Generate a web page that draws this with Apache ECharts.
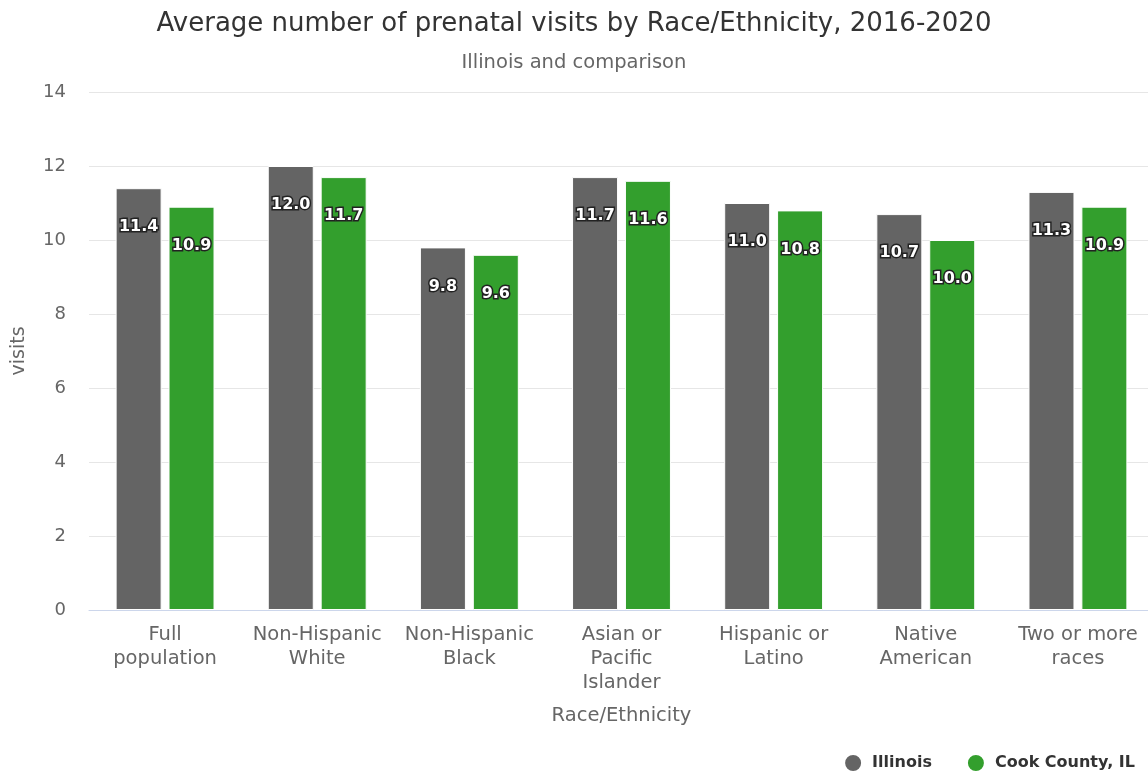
<!DOCTYPE html>
<html><head><meta charset="utf-8">
<script src="https://cdn.jsdelivr.net/npm/echarts@6/dist/echarts.min.js"></script>
<style>html,body{margin:0;padding:0;background:#fff}#c{width:1148px;height:775px}</style>
</head><body><div id="c"></div>
<script>
const categories = ["Full\npopulation", "Non-Hispanic\nWhite", "Non-Hispanic\nBlack", "Asian or\nPacific\nIslander", "Hispanic or\nLatino", "Native\nAmerican", "Two or more\nraces"];
const illinois = [11.4, 12.0, 9.8, 11.7, 11.0, 10.7, 11.3];
const cook = [10.9, 11.7, 9.6, 11.6, 10.8, 10.0, 10.9];
const seriesNames = ["Illinois", "Cook County, IL"];
const yTicks = [0, 2, 4, 6, 8, 10, 12, 14];

const FONT = '"DejaVu Sans", sans-serif';
const chart = echarts.init(document.getElementById('c'));
const labelStyle = {
  show: true, position: 'insideTop', distance: 31,
  color: '#fff', fontFamily: FONT, fontSize: 16, fontWeight: 'bold',
  textBorderColor: '#222', textBorderWidth: 3,
  formatter: p => p.value.toFixed(1)
};
chart.setOption({
  animation: false,
  title: {
    text: 'Average number of prenatal visits by Race/Ethnicity, 2016-2020',
    subtext: 'Illinois and comparison',
    left: 'center', top: 6, itemGap: 16,
    textStyle: { fontFamily: FONT, fontSize: 26, fontWeight: 'normal', color: '#333' },
    subtextStyle: { fontFamily: FONT, fontSize: 19.5, color: '#666' }
  },
  legend: {
    right: 8, bottom: -3, itemGap: 34, icon: 'circle', itemWidth: 18, itemHeight: 18,
    textStyle: { fontFamily: FONT, fontSize: 16, fontWeight: 'bold', color: '#333', padding: [0, 0, 0, 5] },
    data: seriesNames
  },
  grid: { left: 89, width: 1065, top: 92, bottom: 165, containLabel: false, outerBoundsMode: 'none' },
  xAxis: {
    type: 'category', data: categories,
    name: 'Race/Ethnicity', nameLocation: 'middle', nameGap: 96,
    nameTextStyle: { fontFamily: FONT, fontSize: 19.5, color: '#666' },
    axisLine: { lineStyle: { color: '#ccd6eb', width: 1 } },
    axisTick: { show: false },
    axisLabel: { fontFamily: FONT, fontSize: 19.5, color: '#666', lineHeight: 24, margin: 13, interval: 0 }
  },
  yAxis: {
    type: 'value', min: 0, max: 14, interval: 2,
    name: 'visits', nameLocation: 'middle', nameGap: 60, nameRotate: 90,
    nameTextStyle: { fontFamily: FONT, fontSize: 19, color: '#666' },
    axisLine: { show: false }, axisTick: { show: false },
    axisLabel: { fontFamily: FONT, fontSize: 18, color: '#666', margin: 23,
      formatter: v => yTicks.includes(v) ? String(v) : '' },
    splitLine: { lineStyle: { color: '#e6e6e6', width: 1 } }
  },
  series: [
    { name: seriesNames[0], type: 'bar', data: illinois, barWidth: 46, barGap: '15%',
      itemStyle: { color: '#646464', borderColor: '#fff', borderWidth: 1 }, label: labelStyle },
    { name: seriesNames[1], type: 'bar', data: cook, barWidth: 46,
      itemStyle: { color: '#339f2d', borderColor: '#fff', borderWidth: 1 }, label: labelStyle }
  ]
});
</script></body></html>
